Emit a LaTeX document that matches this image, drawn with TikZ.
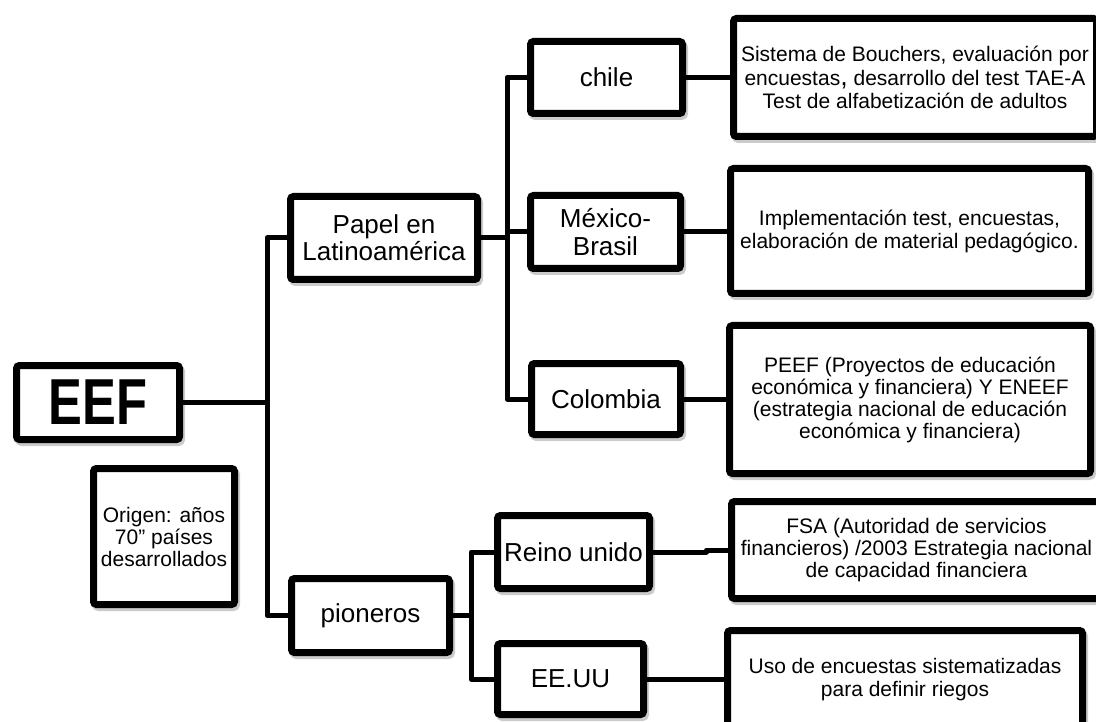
\documentclass[tikz,border=0pt]{standalone}
\usepackage{fontspec}
\setmainfont{Liberation Sans}
\usepackage{graphicx}
\usetikzlibrary{shadows}
\begin{document}
\begin{tikzpicture}[x=1pt,y=-1pt,
  box/.style={draw=black, line width=7pt, rounded corners=3pt, fill=white,
    inner sep=0pt, align=center, font=\fontsize{26}{27}\selectfont,
    drop shadow={shadow xshift=2pt, shadow yshift=-3pt, fill=black!45,
      draw=black!45, line width=7pt, opacity=0.45}},
  detail/.style={box, font=\fontsize{21}{23}\selectfont},
  conn/.style={line width=5pt, line join=round, line cap=rect}]
\clip (0,0) rectangle (1096,722);
\fill[white] (0,0) rectangle (1096,722);

% left column
\node[box, minimum width=163, minimum height=74] (eef) at (98,402.5)
  {\scalebox{0.78}[1]{\fontsize{65}{65}\selectfont\bfseries EEF}};
\node[box, minimum width=141, minimum height=136, font=\fontsize{21}{22}\selectfont] (orig) at (164,536.5)
  {Origen: años\\70” países\\desarrollados};

% second column
\node[box, minimum width=187, minimum height=83] (papel) at (384,238)
  {Papel en\\Latinoamérica};
\node[box, minimum width=158, minimum height=74] (pion) at (370.5,615.5)
  {pioneros};

% third column
\node[box, minimum width=152, minimum height=72] (chile) at (606.5,77.5) {chile};
\node[box, minimum width=150, minimum height=73, font=\fontsize{26}{28}\selectfont] (mexico) at (605.5,232)
  {México-\\Brasil};
\node[box, minimum width=149, minimum height=71] (colom) at (606,399) {Colombia};
\node[box, minimum width=152, minimum height=73] (reino) at (573.5,552) {Reino unido};
\node[box, minimum width=146, minimum height=71] (eeuu) at (570.5,679) {EE.UU};

% detail boxes
\node[detail, minimum width=363, minimum height=118] (d1) at (915,77.5)
  {Sistema de Bouchers, evaluación por\\[1pt]encuestas{\fontsize{27}{23}\selectfont,} desarrollo del test TAE-A\\Test de alfabetización de adultos};
\node[detail, minimum width=358, minimum height=125] (d2) at (909.5,231)
  {Implementación test, encuestas,\\elaboración de material pedagógico.};
\node[detail, minimum width=361, minimum height=148, font=\fontsize{21}{22}\selectfont] (d3) at (910,399.5)
  {PEEF (Proyectos de educación\\económica y financiera) Y ENEEF\\(estrategia nacional de educación\\económica y financiera)};
\node[detail, minimum width=370, minimum height=97, font=\fontsize{21}{22}\selectfont] (d4) at (916.5,550)
  {FSA (Autoridad de servicios\\financieros) /2003 Estrategia nacional\\de capacidad financiera};
\node[detail, minimum width=355, minimum height=98] (d5) at (905,679.5)
  {Uso de encuestas sistematizadas\\para definir riegos};

% trunks
\coordinate (t1) at (267,0);
\coordinate (t2) at (507,0);
\coordinate (t3) at (471,0);

\draw[conn] (eef.east) -- (eef.east -| t1);
\draw[conn] (papel.west) -- (papel.west -| t1) -- (pion.west -| t1) -- (pion.west);
\draw[conn] (papel.east) -- (papel.east -| t2);
\draw[conn] (chile.west) -- (chile.west -| t2) -- (colom.west -| t2) -- (colom.west);
\draw[conn] (mexico.west) -- (mexico.west -| t2);
\draw[conn] (pion.east) -- (pion.east -| t3);
\draw[conn] (reino.west) -- (reino.west -| t3) -- (eeuu.west -| t3) -- (eeuu.west);

\draw[conn] (chile.east) -- (chile.east -| d1.west);
\draw[conn] (mexico.east) -- (mexico.east -| d2.west);
\draw[conn] (colom.east) -- (colom.east -| d3.west);
\draw[conn] (reino.east) -- ++(53.5,0) |- (d4.west);
\draw[conn] (eeuu.east) -- ++(59.5,0) |- (d5.west);
\end{tikzpicture}
\end{document}
